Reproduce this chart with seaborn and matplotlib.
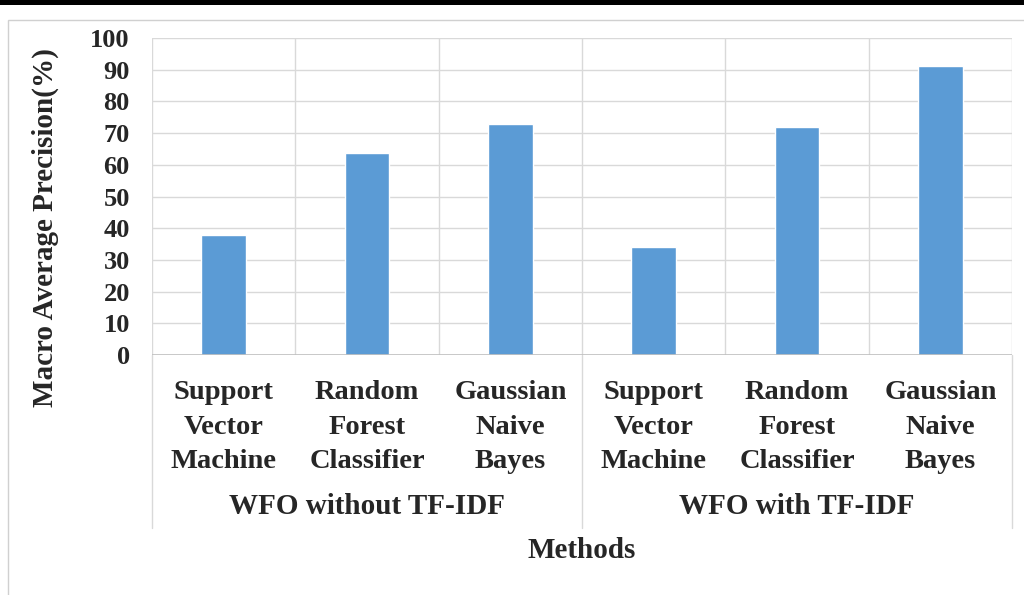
import pandas as pd
import numpy as np
import seaborn as sns
import matplotlib.pyplot as plt
from matplotlib.patches import Rectangle

# values
methods = ['Support\nVector\nMachine', 'Random\nForest\nClassifier', 'Gaussian\nNaive\nBayes']
groups = ['WFO without TF-IDF', 'WFO with TF-IDF']
precision_without = [38.0, 63.8, 72.9]
precision_with = [34.0, 71.8, 91.2]

labels = [f'{m}#{g}' for g in groups for m in methods]
df = pd.DataFrame({
    'slot': labels,
    'precision': precision_without + precision_with,
})

sns.set_theme(style='white')
plt.rcParams['font.family'] = ['Liberation Serif', 'DejaVu Serif']
plt.rcParams['font.weight'] = 'bold'

fig = plt.figure(figsize=(10.24, 5.95), dpi=100)
ax = fig.add_axes([152 / 1024, 1 - 355 / 595, 860 / 1024, 317 / 595])

sns.barplot(data=df, x='slot', y='precision', color='#5B9BD5', width=0.31,
            saturation=1, ax=ax)

ax.set_ylim(0, 100)
ax.set_xlim(-0.5, len(labels) - 0.5)
ax.set_yticks(np.arange(0, 101, 10))
ax.set_xticks(range(len(labels)))
ax.set_xticklabels([l.split('#')[0] for l in labels], fontsize=20.5,
                   fontweight='bold', linespacing=1.5)
ax.tick_params(axis='y', labelsize=19, length=0, pad=16)
ax.tick_params(axis='x', length=0, pad=18)
for t in ax.get_yticklabels():
    t.set_fontweight('bold')
ax.set_xlabel('')
ax.set_ylabel('')

# gridlines
grid_c = '#d9d9d9'
for y in np.arange(10, 101, 10):
    ax.axhline(y, color=grid_c, lw=1, zorder=0)
for x in np.arange(-0.5, len(labels), 1):
    ax.axvline(x, color=grid_c, lw=1, zorder=0)
for s in ax.spines.values():
    s.set_visible(False)
ax.axhline(0, color='#bfbfbf', lw=1.2, zorder=3)

# group separators below the axis
trans = ax.get_xaxis_transform()
for x in [-0.5, 2.5, 5.5]:
    ax.plot([x, x], [0, -(528 - 355) / 317], color=grid_c, lw=1,
            transform=trans, clip_on=False)

fig.text(367 / 1024, 1 - 506 / 595, groups[0], ha='center', va='center',
         fontsize=21, fontweight='bold')
fig.text(797 / 1024, 1 - 506 / 595, groups[1], ha='center', va='center',
         fontsize=21, fontweight='bold')
fig.text(582 / 1024, 1 - 550 / 595, 'Methods', ha='center', va='center',
         fontsize=21, fontweight='bold')
fig.text(45 / 1024, 1 - 228 / 595, 'Macro Average Precision(%)', ha='center',
         va='center', rotation=90, fontsize=21, fontweight='bold')

# outer frame like the screenshot
fig.patches.append(Rectangle((0, 1 - 5 / 595), 1, 5 / 595, transform=fig.transFigure,
                             facecolor='black', edgecolor='none'))
fig.patches.append(Rectangle((8 / 1024, -0.01), 1.1, 1 - 20 / 595 + 0.01,
                             transform=fig.transFigure, facecolor='none',
                             edgecolor='#d0d0d0', lw=1))

fig.savefig('out.png', dpi=100)
